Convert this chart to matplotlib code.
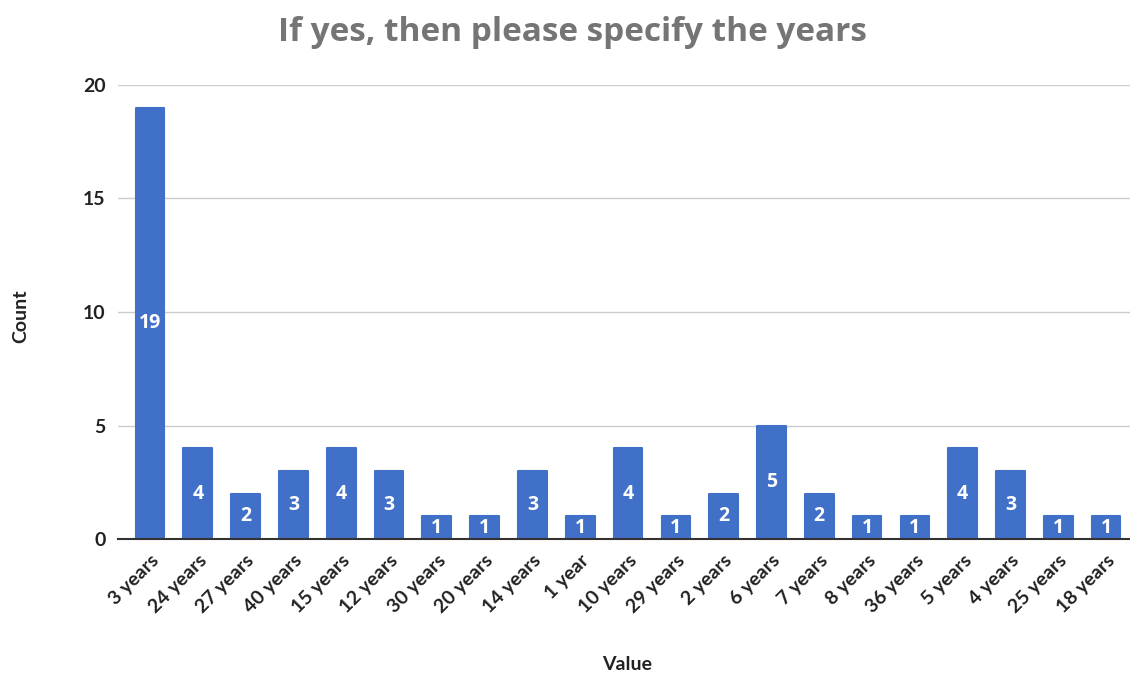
import matplotlib.pyplot as plt

categories = ["3 years", "24 years", "27 years", "40 years", "15 years", "12 years",
              "30 years", "20 years", "14 years", "1 year", "10 years", "29 years",
              "2 years", "6 years", "7 years", "8 years", "36 years", "5 years",
              "4 years", "25 years", "18 years"]
counts = [19, 4, 2, 3, 4, 3, 1, 1, 3, 1, 4, 1, 2, 5, 2, 1, 1, 4, 3, 1, 1]
y_ticks = [0, 5, 10, 15, 20]

bar_color = "#4170c8"
label_font = ['Lato', 'DejaVu Sans']

plt.rcParams['font.family'] = ['Open Sans', 'DejaVu Sans']

fig = plt.figure(figsize=(11.3, 6.79), dpi=100)
ax = fig.add_axes([0.1044, 0.206, 0.8956, 0.669])

x = range(len(categories))
bars = ax.bar(x, counts, width=0.6, color=bar_color, edgecolor=bar_color,
              linewidth=1.5, joinstyle='round', zorder=3)

# value labels in the middle of each bar
for xi, c in zip(x, counts):
    ax.text(xi, c / 2, str(c), ha='center', va='center', color='white',
            fontsize=14, fontweight='bold', zorder=4)

ax.set_xlim(-0.67, len(categories) - 0.5)
ax.set_ylim(0, 20)
ax.set_yticks(y_ticks)
ax.set_yticklabels([str(t) for t in y_ticks], fontsize=14, fontweight='bold',
                   color='#222222', family=label_font)
ax.set_xticks(list(x))
ax.set_xticklabels(categories, rotation=45, ha='right', rotation_mode='anchor',
                   fontsize=14, fontweight='bold', color='#222222', family=label_font)
ax.tick_params(axis='both', length=0, pad=9)

ax.grid(axis='y', color='#cccccc', linewidth=1, zorder=0)
for s in ['top', 'right', 'left']:
    ax.spines[s].set_visible(False)
ax.spines['bottom'].set_color('#333333')
ax.spines['bottom'].set_linewidth(1.5)
ax.spines['bottom'].set_zorder(5)

fig.text(0.507, 0.952, "If yes, then please specify the years", ha='center', va='center',
         fontsize=24, fontweight='bold', color='#757575')
fig.text(0.018, 0.535, "Count", rotation=90, ha='center', va='center',
         fontsize=14, fontweight='bold', color='#222222', family=label_font)
fig.text(0.555, 0.022, "Value", ha='center', va='center',
         fontsize=14, fontweight='bold', color='#222222', family=label_font)

fig.savefig("out.png", dpi=100)
